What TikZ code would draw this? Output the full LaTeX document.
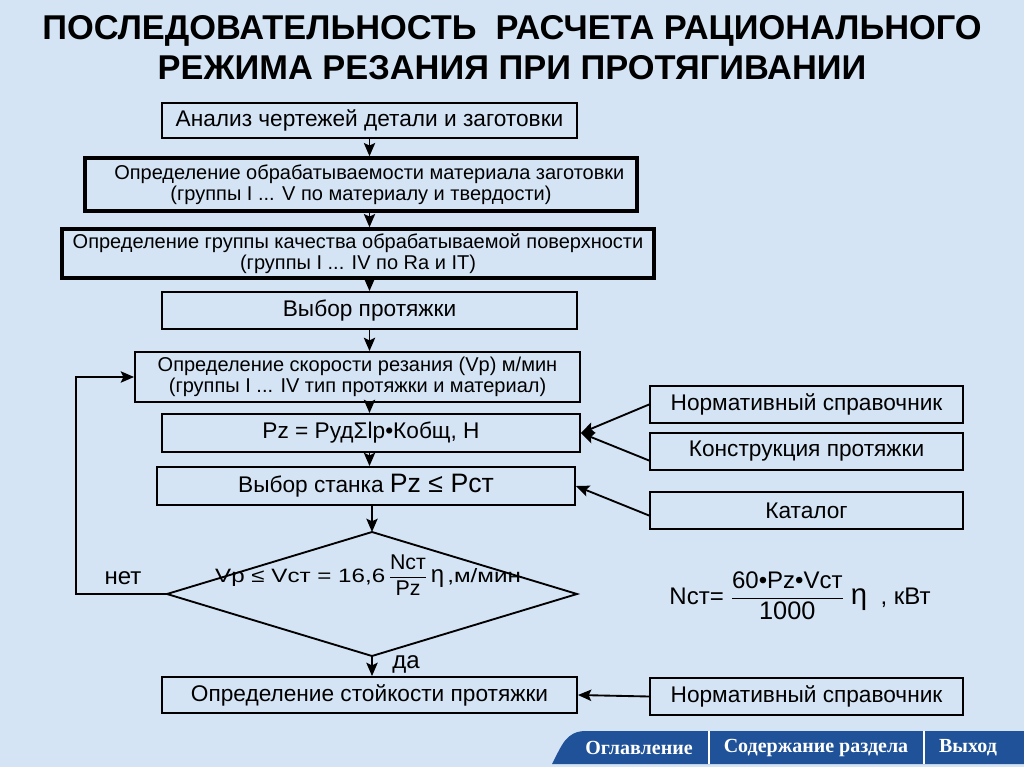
\documentclass[tikz,border=0pt]{standalone}
\usepackage{graphicx}
\usepackage{fontspec}
\setmainfont{Liberation Sans}
\newfontfamily\barfont{Liberation Serif}
\usetikzlibrary{arrows.meta}
\definecolor{bgblue}{RGB}{212,228,244}
\definecolor{barblue}{RGB}{31,82,152}

\begin{document}
\begin{tikzpicture}[x=0.75pt,y=-0.75pt,
	box/.style={draw,line width=1.4pt,inner sep=0pt,align=center,font=\fontsize{17}{19}\selectfont},
	twobox/.style={box,font=\fontsize{15}{16}\selectfont},
	thickbox/.style={twobox,line width=2.6pt},
	refbox/.style={box,minimum width=234.75pt,minimum height=27.75pt},
	barlabel/.style={white,font=\barfont\bfseries\fontsize{15}{15}\selectfont},
	arr/.style={line width=1.4pt,-{Stealth[length=10pt,width=8.5pt,inset=2pt]}}]
	\fill[bgblue] (0,0) rectangle (1024,767);
	\useasboundingbox (0,0) rectangle (1024,767);

	\node[align=center,font=\bfseries\fontsize{25.8}{30}\selectfont] (title) at (512,48)
		{ПОСЛЕДОВАТЕЛЬНОСТЬ\ \ РАСЧЕТА РАЦИОНАЛЬНОГО\\РЕЖИМА РЕЗАНИЯ ПРИ ПРОТЯГИВАНИИ};

	% main column
	\node[box,minimum width=311.25pt,minimum height=26.25pt] (analiz) at (369.5,120.5)
		{Анализ чертежей детали и заготовки};
	\node[thickbox,minimum width=414pt,minimum height=39.75pt] (obrab) at (361,184.5)
		{\ \ \ Определение обрабатываемости материала заготовки\\(группы I ... V по материалу и твердости)};
	\node[thickbox,minimum width=444pt,minimum height=36.75pt] (kach) at (358,253.5)
		{Определение группы качества обрабатываемой поверхности\\(группы I ... IV по Ra и IT)};
	\node[box,minimum width=311.25pt,minimum height=27.75pt] (vybor) at (369.5,310.5)
		{Выбор протяжки};
	\node[twobox,minimum width=333.75pt,minimum height=37.5pt] (skor) at (357.5,377)
		{Определение скорости резания (Vр) м/мин\\(группы I ... IV тип протяжки и материал)};
	\node[box,minimum width=313.5pt,minimum height=28.5pt] (sila) at (371,433)
		{Pz = РудΣlр•Кобщ, Н};
	\node[box,minimum width=313.5pt,minimum height=28.5pt] (stanok) at (366,486)
		{Выбор станка {\fontsize{20}{20}\selectfont Pz ≤ Pст}};
	\node[box,minimum width=311.25pt,minimum height=27pt] (stoik) at (369.5,695)
		{Определение стойкости протяжки};

	% condition
	\coordinate (dl) at (167,594);
	\coordinate (dt) at (372,532);
	\coordinate (dr) at (577,594);
	\coordinate (db) at (372,656);
	\draw[line width=1.4pt] (dl) -- (dt) -- (dr) -- (db) -- cycle;
	\node[anchor=base,font=\fontsize{14.5}{14.5}\selectfont] (usl) at (368,582)
		{\scalebox{1.25}[1]{Vр ≤ Vст = 16,6}\,$\displaystyle\frac{\mbox{\fontsize{16}{16}\selectfont Nст}}{\mbox{\fontsize{16}{16}\selectfont Pz}}$\,{\fontsize{18}{18}\selectfont η}\,\scalebox{1.25}[1]{,м/мин}};

	% references
	\node[refbox] (norm) at (806.5,404.5) {Нормативный справочник};
	\node[refbox] (konstr) at (806.5,451.5) {Конструкция протяжки};
	\node[refbox] (katalog) at (806.5,510.5) {Каталог};
	\node[refbox] (norm2) at (806.5,696.5) {Нормативный справочник};

	\node[anchor=base,font=\fontsize{18}{18}\selectfont] (nst) at (800,604)
		{Nст= $\displaystyle\frac{\mbox{\fontsize{18}{18}\selectfont 60•Pz•Vст}}{\mbox{\fontsize{19}{19}\selectfont 1000}}$ {\fontsize{22}{22}\selectfont η}\ \ , кВт};

	% flow
	\draw[arr] (analiz.south) -- (analiz.south |- obrab.north);
	\draw[arr] (analiz.south |- obrab.south) -- (analiz.south |- kach.north);
	\draw[arr] (analiz.south |- kach.south) -- (vybor.north);
	\draw[arr] (vybor.south) -- (vybor.south |- skor.north);
	\draw[arr] (vybor.south |- skor.south) -- (vybor.south |- sila.north);
	\draw[arr] (vybor.south |- sila.south) -- (vybor.south |- stanok.north);
	\draw[arr] (dt |- stanok.south) -- (dt);
	\draw[arr] (db) -- (db |- stoik.north);
	\coordinate (loop) at (76,594);
	\draw[arr] (dl) -- (loop) |- (skor.west);
	\node[font=\fontsize{18}{18}\selectfont] (net) at (123,578) {нет};
	\node[font=\fontsize{18}{18}\selectfont] (da) at (406,664) {да};

	\draw[arr] (norm.west) -- (sila.east);
	\draw[arr] ([yshift=-6.75pt]konstr.west) -- (sila.east);
	\draw[arr] ([yshift=-3.75pt]katalog.west) -- (stanok.east);
	\draw[arr] (norm2.west) -- (stoik.east);

	% navigation bar
	\fill[barblue] (552,764) .. controls (562,745) and (566,731) .. (586,731) -- (1024,731) -- (1024,764) -- cycle;
	\draw[white,line width=1.5pt] (709,731) -- (709,764);
	\draw[white,line width=1.5pt] (924,731) -- (924,764);
	\node[barlabel] (ogl) at (639,748) {Оглавление};
	\node[barlabel] (sod) at (816,748) {Содержание раздела};
	\node[barlabel] (vyh) at (968,748) {Выход};
\end{tikzpicture}
\end{document}
